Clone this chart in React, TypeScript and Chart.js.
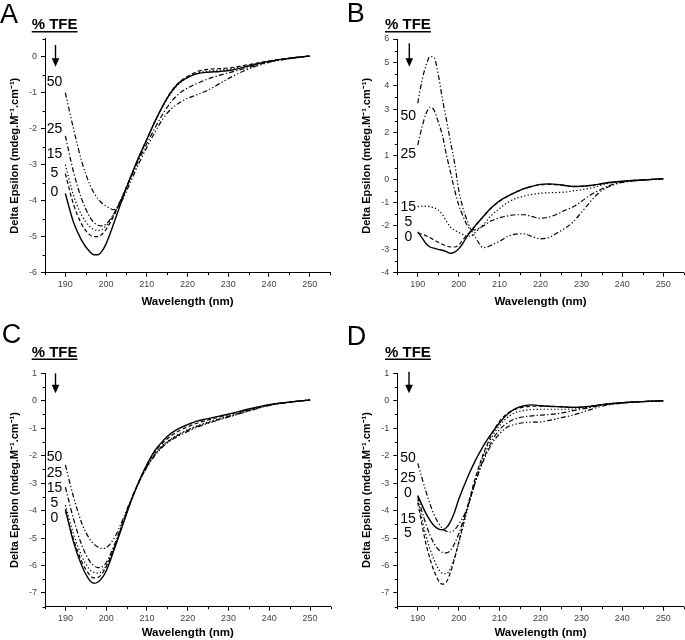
import React, { useEffect, useRef } from 'react';
import { Chart, registerables } from 'chart.js';

Chart.register(...registerables);

const FONT = '"Liberation Sans", Arial, Helvetica, sans-serif';

// Wavelengths (nm)
const WL_ACD = [190, 192, 194, 196, 197, 198, 199, 200, 202, 204, 206, 208, 210, 212, 214, 216, 218, 220, 222, 225, 228, 231, 235, 240, 245, 250];
const WL_B = [190, 191, 192, 193, 194, 195, 196, 197, 198, 199, 200, 201, 202, 203, 204, 205, 206, 207, 208, 210, 212, 214, 216, 218, 220, 222, 224, 226, 228, 230, 232, 234, 236, 238, 240, 245, 250];

const X_TICKS = [190, 200, 210, 220, 230, 240, 250];
const TFE_LEVELS = ['0', '5', '15', '25', '50'];

// Panel A
const A_0 = [-3.8, -4.6, -5.1, -5.42, -5.5, -5.5, -5.4, -5.2, -4.6, -3.95, -3.35, -2.8, -2.3, -1.8, -1.35, -0.98, -0.72, -0.58, -0.48, -0.43, -0.41, -0.37, -0.26, -0.13, -0.05, 0.02];
const A_5 = [-3.25, -4.1, -4.65, -4.95, -5.0, -5.0, -4.93, -4.8, -4.4, -3.9, -3.35, -2.8, -2.3, -1.8, -1.35, -0.97, -0.7, -0.55, -0.43, -0.35, -0.33, -0.3, -0.22, -0.12, -0.04, 0.02];
const A_15 = [-3.0, -3.85, -4.4, -4.72, -4.8, -4.83, -4.8, -4.7, -4.35, -3.88, -3.35, -2.8, -2.3, -1.8, -1.37, -1.0, -0.74, -0.58, -0.47, -0.4, -0.37, -0.33, -0.24, -0.12, -0.04, 0.02];
const A_25 = [-2.2, -3.2, -3.95, -4.45, -4.6, -4.68, -4.7, -4.65, -4.35, -3.88, -3.38, -2.88, -2.42, -1.98, -1.58, -1.25, -1.02, -0.87, -0.76, -0.62, -0.51, -0.42, -0.3, -0.15, -0.05, 0.02];
const A_50 = [-1.0, -2.0, -2.9, -3.55, -3.78, -3.95, -4.07, -4.15, -4.25, -3.98, -3.48, -2.98, -2.52, -2.1, -1.72, -1.45, -1.28, -1.16, -1.07, -0.93, -0.74, -0.55, -0.34, -0.16, -0.05, 0.02];

// Panel B
const B_0 = [-2.25, -2.5, -2.75, -2.9, -2.95, -3.0, -3.04, -3.1, -3.17, -3.12, -2.98, -2.75, -2.46, -2.22, -2.0, -1.8, -1.6, -1.4, -1.22, -0.92, -0.72, -0.55, -0.4, -0.3, -0.22, -0.2, -0.22, -0.27, -0.31, -0.3, -0.27, -0.22, -0.16, -0.12, -0.08, -0.03, 0.02];
const B_5 = [-2.3, -2.35, -2.42, -2.5, -2.6, -2.7, -2.78, -2.85, -2.9, -2.9, -2.82, -2.6, -2.4, -2.22, -2.02, -1.8, -1.6, -1.4, -1.22, -0.94, -0.73, -0.55, -0.4, -0.3, -0.24, -0.22, -0.24, -0.27, -0.3, -0.3, -0.27, -0.22, -0.16, -0.12, -0.09, -0.03, 0.02];
const B_15 = [-1.17, -1.15, -1.15, -1.18, -1.22, -1.32, -1.5, -1.8, -2.05, -2.18, -2.28, -2.36, -2.43, -2.44, -2.28, -2.12, -1.95, -1.75, -1.55, -1.25, -1.0, -0.82, -0.72, -0.65, -0.6, -0.58, -0.57, -0.55, -0.5, -0.45, -0.39, -0.3, -0.2, -0.14, -0.1, -0.03, 0.02];
const B_25 = [1.46, 2.2, 2.8, 3.08, 2.95, 2.45, 1.9, 1.05, 0.3, -0.45, -1.1, -1.55, -1.95, -2.15, -2.17, -2.1, -2.0, -1.88, -1.78, -1.65, -1.57, -1.52, -1.52, -1.6, -1.67, -1.62, -1.5, -1.33, -1.18, -0.95, -0.7, -0.5, -0.33, -0.2, -0.12, -0.04, 0.02];
const B_50 = [3.25, 4.2, 4.85, 5.25, 5.2, 4.5, 3.45, 2.55, 1.6, 0.7, -0.45, -1.2, -1.74, -2.15, -2.46, -2.75, -2.93, -2.9, -2.82, -2.65, -2.45, -2.35, -2.34, -2.46, -2.55, -2.5, -2.3, -2.1, -1.82, -1.42, -1.0, -0.62, -0.38, -0.23, -0.14, -0.04, 0.02];

// Panel C
const C_0 = [-3.95, -5.15, -6.0, -6.55, -6.65, -6.6, -6.45, -6.2, -5.4, -4.55, -3.7, -2.95, -2.32, -1.8, -1.45, -1.18, -1.0, -0.87, -0.75, -0.65, -0.55, -0.45, -0.3, -0.14, -0.05, 0.03];
const C_5 = [-4.0, -5.05, -5.85, -6.35, -6.45, -6.43, -6.3, -6.05, -5.35, -4.5, -3.68, -2.95, -2.33, -1.85, -1.52, -1.27, -1.08, -0.95, -0.83, -0.7, -0.58, -0.47, -0.32, -0.15, -0.05, 0.03];
const C_15 = [-3.8, -4.85, -5.65, -6.15, -6.25, -6.28, -6.2, -6.0, -5.3, -4.48, -3.68, -2.97, -2.38, -1.92, -1.6, -1.38, -1.2, -1.05, -0.93, -0.77, -0.64, -0.52, -0.35, -0.16, -0.05, 0.03];
const C_25 = [-3.15, -4.3, -5.25, -5.85, -6.0, -6.08, -6.05, -5.9, -5.25, -4.45, -3.67, -2.98, -2.4, -1.95, -1.63, -1.4, -1.22, -1.08, -0.95, -0.8, -0.66, -0.53, -0.36, -0.16, -0.05, 0.03];
const C_50 = [-2.34, -3.5, -4.45, -5.05, -5.22, -5.33, -5.38, -5.35, -5.0, -4.35, -3.62, -2.97, -2.42, -1.98, -1.66, -1.43, -1.26, -1.12, -0.98, -0.82, -0.68, -0.55, -0.37, -0.17, -0.05, 0.03];

// Panel D
const D_0 = [-3.45, -4.1, -4.55, -4.7, -4.62, -4.4, -4.05, -3.6, -2.85, -2.2, -1.65, -1.2, -0.8, -0.48, -0.28, -0.18, -0.15, -0.18, -0.2, -0.22, -0.24, -0.22, -0.14, -0.07, -0.03, 0.0];
const D_5 = [-3.7, -5.2, -6.2, -6.68, -6.6, -6.25, -5.75, -5.15, -3.95, -2.85, -1.95, -1.25, -0.75, -0.45, -0.3, -0.23, -0.2, -0.2, -0.2, -0.22, -0.24, -0.22, -0.14, -0.07, -0.03, 0.0];
const D_15 = [-3.6, -4.9, -5.8, -6.28, -6.3, -6.1, -5.7, -5.2, -4.05, -2.95, -2.0, -1.35, -0.9, -0.6, -0.42, -0.35, -0.32, -0.31, -0.31, -0.31, -0.3, -0.25, -0.15, -0.07, -0.03, 0.0];
const D_25 = [-3.5, -4.5, -5.2, -5.52, -5.54, -5.45, -5.2, -4.85, -3.95, -3.0, -2.15, -1.5, -1.05, -0.8, -0.65, -0.58, -0.55, -0.52, -0.5, -0.45, -0.36, -0.28, -0.16, -0.08, -0.03, 0.0];
const D_50 = [-2.28, -3.3, -4.15, -4.65, -4.75, -4.78, -4.7, -4.5, -3.95, -3.0, -2.2, -1.6, -1.2, -0.95, -0.85, -0.8, -0.78, -0.77, -0.72, -0.62, -0.52, -0.38, -0.2, -0.09, -0.03, 0.0];

const Y_TICKS_A = [0, -1, -2, -3, -4, -5, -6];
const Y_TICKS_B = [6, 5, 4, 3, 2, 1, 0, -1, -2, -3, -4];
const Y_TICKS_CD = [1, 0, -1, -2, -3, -4, -5, -6, -7];

// line styles for 0, 5, 15, 25, 50 % TFE
const DASHES: number[][] = [[], [4, 2.5], [1.3, 2.2], [5, 2.2, 1.3, 2.2], [5, 2.2, 1.3, 2.2, 1.3, 2.2]];

type PanelCfg = {
  key: string;
  letter: string;
  left: number;
  top: number;
  w: number;
  h: number;
  wl: number[];
  series: number[][];
  xMin: number;
  xMax: number;
  yMin: number;
  yMax: number;
  yTicks: number[];
  area: { l: number; r: number; t: number; b: number };
  yTitlePad: number;
  xTitlePad: number;
  xTickPad: number;
  letterPos: [number, number];
  tfePos: [number, number, number];
  arrow: [number, number, number];
  labelX: number;
  labelYs: number[];
};

const PANELS: PanelCfg[] = [
  {
    key: 'A', letter: 'A', left: 0, top: 0, w: 340, h: 320,
    wl: WL_ACD, series: [A_0, A_5, A_15, A_25, A_50],
    xMin: 185, xMax: 255, yMin: -6, yMax: 0.5, yTicks: Y_TICKS_A,
    area: { l: 45, r: 330, t: 38.7, b: 272.7 },
    yTitlePad: 8.4, xTitlePad: 11.4, xTickPad: 2.9,
    letterPos: [0, 23.3], tfePos: [31.7, 29.3, 31.7], arrow: [55.5, 45, 66.7],
    labelX: 54.5, labelYs: [191.7, 173.5, 154, 129, 82.5],
  },
  {
    key: 'B', letter: 'B', left: 340, top: 0, w: 345, h: 320,
    wl: WL_B, series: [B_0, B_5, B_15, B_25, B_50],
    xMin: 185, xMax: 255, yMin: -4, yMax: 6, yTicks: Y_TICKS_B,
    area: { l: 57.3, r: 343.7, t: 39, b: 272.7 },
    yTitlePad: 20.1, xTitlePad: 11.4, xTickPad: 2.9,
    letterPos: [6.7, 21.7], tfePos: [45, 29.3, 31.7], arrow: [69.3, 43.3, 66.7],
    labelX: 68.3, labelYs: [237, 222.5, 206.7, 154, 116.5],
  },
  {
    key: 'C', letter: 'C', left: 0, top: 320, w: 340, h: 320,
    wl: WL_ACD, series: [C_0, C_5, C_15, C_25, C_50],
    xMin: 185, xMax: 255, yMin: -7.5, yMax: 1, yTicks: Y_TICKS_CD,
    area: { l: 45, r: 330.5, t: 53.3, b: 286.7 },
    yTitlePad: 8.4, xTitlePad: 0, xTickPad: 2.2,
    letterPos: [1.7, 23.3], tfePos: [31.7, 36.7, 39.3], arrow: [55.5, 53.3, 73.3],
    labelX: 54.5, labelYs: [198.3, 182.7, 167.7, 152.7, 137.3],
  },
  {
    key: 'D', letter: 'D', left: 340, top: 320, w: 345, h: 320,
    wl: WL_ACD, series: [D_0, D_5, D_15, D_25, D_50],
    xMin: 185, xMax: 255, yMin: -7.5, yMax: 1, yTicks: Y_TICKS_CD,
    area: { l: 57.3, r: 343.7, t: 53.3, b: 286.7 },
    yTitlePad: 20.1, xTitlePad: 0, xTickPad: 2.2,
    letterPos: [6.7, 25], tfePos: [45, 36.7, 39.3], arrow: [69, 51.7, 73.3],
    labelX: 68, labelYs: [173.3, 213.3, 199, 158, 138],
  },
];

function makeDecor(cfg: PanelCfg) {
  return {
    id: 'decor' + cfg.key,
    afterDraw(chart: any) {
      const ctx: CanvasRenderingContext2D = chart.ctx;
      const xs = chart.scales.x;
      const ys = chart.scales.y;
      const ca = chart.chartArea;
      ctx.save();
      ctx.strokeStyle = '#000';
      ctx.fillStyle = '#000';
      ctx.lineWidth = 1;
      // minor ticks
      ctx.beginPath();
      for (let v = cfg.xMin; v <= cfg.xMax + 0.001; v += 5) {
        if (Math.abs(v % 10) < 0.001) continue;
        const px = Math.round(xs.getPixelForValue(v)) + 0.5;
        ctx.moveTo(px, ca.bottom);
        ctx.lineTo(px, ca.bottom + 2.5);
      }
      for (let v = cfg.yMin; v <= cfg.yMax + 0.001; v += 0.5) {
        if (Math.abs(v - Math.round(v)) < 0.001) continue;
        const py = Math.round(ys.getPixelForValue(v)) + 0.5;
        ctx.moveTo(ca.left - 2.5, py);
        ctx.lineTo(ca.left, py);
      }
      ctx.stroke();

      // panel letter
      ctx.font = `27px ${FONT}`;
      ctx.textAlign = 'left';
      ctx.textBaseline = 'alphabetic';
      ctx.fillText(cfg.letter, cfg.letterPos[0], cfg.letterPos[1]);

      // % TFE header with underline
      ctx.font = `bold 15px ${FONT}`;
      const t = '% TFE';
      ctx.fillText(t, cfg.tfePos[0], cfg.tfePos[1]);
      const tw = ctx.measureText(t).width;
      ctx.lineWidth = 1.4;
      ctx.beginPath();
      ctx.moveTo(cfg.tfePos[0], cfg.tfePos[2]);
      ctx.lineTo(cfg.tfePos[0] + tw, cfg.tfePos[2]);
      ctx.stroke();

      // arrow
      const [ax, ay1, ay2] = cfg.arrow;
      ctx.lineWidth = 1.4;
      ctx.beginPath();
      ctx.moveTo(ax, ay1);
      ctx.lineTo(ax, ay2 - 6);
      ctx.stroke();
      ctx.beginPath();
      ctx.moveTo(ax - 3.8, ay2 - 8.5);
      ctx.lineTo(ax + 3.8, ay2 - 8.5);
      ctx.lineTo(ax, ay2);
      ctx.closePath();
      ctx.fill();

      // TFE level labels
      ctx.font = `14px ${FONT}`;
      ctx.textAlign = 'center';
      ctx.textBaseline = 'middle';
      TFE_LEVELS.forEach((lab, i) => {
        ctx.fillText(lab, cfg.labelX, cfg.labelYs[i]);
      });
      ctx.restore();
    },
  };
}

function Panel({ cfg }: { cfg: PanelCfg }) {
  const ref = useRef<HTMLCanvasElement>(null);
  useEffect(() => {
    const canvas = ref.current;
    if (!canvas) return;
    const chart = new Chart(canvas, {
      type: 'line',
      data: {
        datasets: cfg.series.map((vals, i) => ({
          label: TFE_LEVELS[i] + '% TFE',
          data: cfg.wl.map((x, j) => ({ x, y: vals[j] })),
          borderColor: '#000',
          backgroundColor: '#000',
          borderWidth: i === 0 ? 1.4 : 1.2,
          borderDash: DASHES[i],
          pointRadius: 0,
          fill: false,
          cubicInterpolationMode: 'monotone' as const,
        })),
      },
      options: {
        responsive: false,
        animation: false,
        devicePixelRatio: 1,
        layout: { padding: { left: 0, top: cfg.area.t, right: cfg.w - cfg.area.r, bottom: 0 } },
        plugins: {
          legend: { display: false },
          tooltip: { enabled: false },
          title: { display: false },
        },
        scales: {
          x: {
            type: 'linear',
            min: cfg.xMin,
            max: cfg.xMax,
            afterBuildTicks: (s: any) => {
              s.ticks = X_TICKS.map((v) => ({ value: v }));
            },
            afterFit: (s: any) => {
              s.height = cfg.h - cfg.area.b;
            },
            grid: { display: true, drawOnChartArea: false, drawTicks: true, tickLength: 4, color: '#000', lineWidth: 1 },
            border: { display: true, color: '#000', width: 1 },
            ticks: {
              padding: cfg.xTickPad,
              color: '#444',
              font: { size: 9, family: FONT },
              maxRotation: 0,
              autoSkip: false,
              callback: (v: any) => String(v),
            },
            title: {
              display: true,
              text: 'Wavelength (nm)',
              color: '#000',
              font: { size: 11.5, weight: 'bold', family: FONT },
              padding: { top: 0, bottom: cfg.xTitlePad },
            },
          },
          y: {
            type: 'linear',
            min: cfg.yMin,
            max: cfg.yMax,
            afterBuildTicks: (s: any) => {
              s.ticks = cfg.yTicks.map((v) => ({ value: v }));
            },
            afterFit: (s: any) => {
              s.width = cfg.area.l;
            },
            grid: { display: true, drawOnChartArea: false, drawTicks: true, tickLength: 4, color: '#000', lineWidth: 1 },
            border: { display: true, color: '#000', width: 1 },
            ticks: {
              padding: 4,
              color: '#444',
              font: { size: 9, family: FONT },
              autoSkip: false,
              callback: (v: any) => String(v),
            },
            title: {
              display: true,
              text: 'Delta Epsilon (mdeg.M⁻¹.cm⁻¹)',
              color: '#000',
              font: { size: 11, weight: 'bold', family: FONT },
              padding: { top: cfg.yTitlePad, bottom: 0 },
            },
          },
        },
      } as any,
      plugins: [makeDecor(cfg)],
    });
    return () => chart.destroy();
  }, [cfg]);
  return (
    <canvas
      ref={ref}
      width={cfg.w}
      height={cfg.h}
      style={{ position: 'absolute', left: cfg.left, top: cfg.top, width: cfg.w, height: cfg.h }}
    />
  );
}

export default function App() {
  return (
    <div style={{ position: 'absolute', left: 0, top: 0, width: 685, height: 640, background: '#fff', overflow: 'hidden' }}>
      {PANELS.map((p) => (
        <Panel key={p.key} cfg={p} />
      ))}
    </div>
  );
}
